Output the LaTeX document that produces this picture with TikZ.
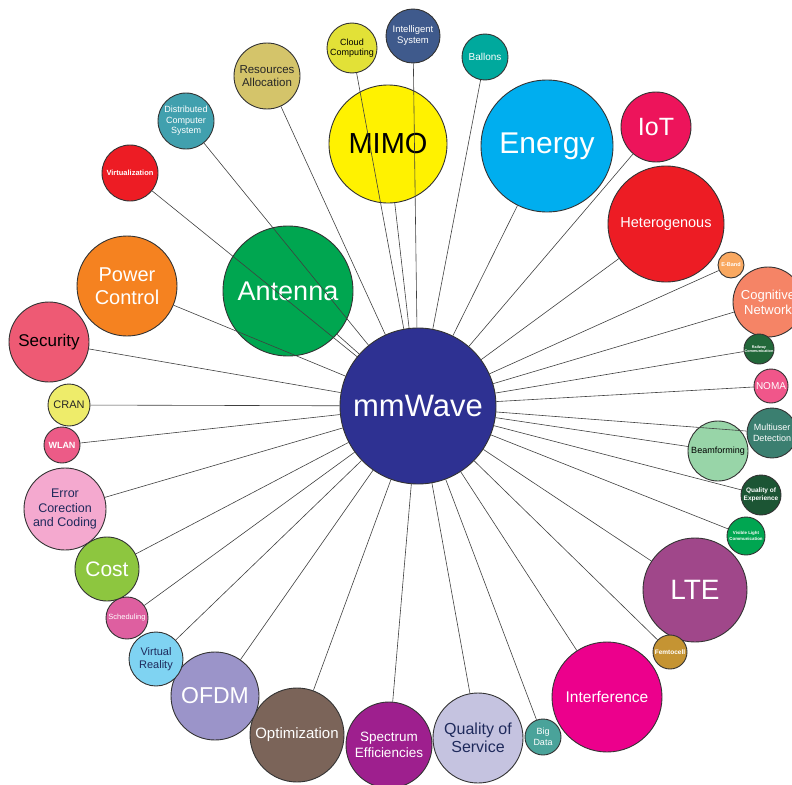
\documentclass[tikz,border=0pt]{standalone}
\usepackage{fontspec}
\setmainfont{Liberation Sans}
\newcommand{\fsz}[2]{\fontsize{#1}{#2}\selectfont}

\definecolor{cMm}{HTML}{2E3192}
\definecolor{cRes}{HTML}{D4C46A}
\definecolor{cCloud}{HTML}{E2E137}
\definecolor{cIntel}{HTML}{3F5A8C}
\definecolor{cBallon}{HTML}{00A99D}
\definecolor{cMimo}{HTML}{FFF200}
\definecolor{cEnergy}{HTML}{00AEEF}
\definecolor{cIot}{HTML}{ED145B}
\definecolor{cHet}{HTML}{ED1C24}
\definecolor{cEband}{HTML}{F9A860}
\definecolor{cCogn}{HTML}{F58466}
\definecolor{cRail}{HTML}{22683A}
\definecolor{cNoma}{HTML}{F0568A}
\definecolor{cMud}{HTML}{3B7F70}
\definecolor{cBeam}{HTML}{98D5A8}
\definecolor{cQoe}{HTML}{1C5534}
\definecolor{cVlc}{HTML}{00A651}
\definecolor{cLte}{HTML}{A0478A}
\definecolor{cFemto}{HTML}{C59433}
\definecolor{cInterf}{HTML}{EC008C}
\definecolor{cBig}{HTML}{4AA39A}
\definecolor{cQos}{HTML}{C5C3E0}
\definecolor{cSpec}{HTML}{9E1F8E}
\definecolor{cOptim}{HTML}{7B6459}
\definecolor{cOfdm}{HTML}{9B94C9}
\definecolor{cVr}{HTML}{7FD3F2}
\definecolor{cSched}{HTML}{DE5FA0}
\definecolor{cCost}{HTML}{8DC63F}
\definecolor{cEcc}{HTML}{F4A9CF}
\definecolor{cWlan}{HTML}{EC5B87}
\definecolor{cCran}{HTML}{EEEC6A}
\definecolor{cSec}{HTML}{EE5A74}
\definecolor{cPower}{HTML}{F58220}
\definecolor{cAnt}{HTML}{00A650}
\definecolor{cVirt}{HTML}{ED1C24}
\definecolor{cDcs}{HTML}{41A0AE}
\definecolor{cInk}{HTML}{1F2A5C}

\tikzset{
  bub/.style n args={3}{circle, draw=black!80, line width=0.9pt, fill=#1,
    minimum size=#2*2pt, inner sep=0pt, align=center, text=#3},
  link/.style={draw=black!75, line width=0.6pt}
}

\begin{document}
\begin{tikzpicture}[x=1pt,y=-1pt]
\useasboundingbox (0,0) rectangle (792,784);

% centre
\node[bub={cMm}{78}{white}, font=\fsz{31}{36}] (mm) at (418,406) {mmWave};

% top
\node[bub={cRes}{33}{black!85}, font=\fsz{11.5}{13}] (res) at (267,76) {Resources\\Allocation};
\node[bub={cCloud}{25}{black}, font=\fsz{9}{10.5}] (cloud) at (352,48) {Cloud\\Computing};
\node[bub={cIntel}{27}{white}, font=\fsz{9.5}{11}] (intel) at (413,36) {Intelligent\\System};
\node[bub={cBallon}{23}{white}, font=\fsz{10}{12}] (ballon) at (485,57) {Ballons};
\node[bub={cMimo}{59}{black}, font=\fsz{29}{34}] (mimo) at (388,144) {MIMO};
\node[bub={cEnergy}{66}{white}, font=\fsz{30}{35}] (energy) at (547,146) {Energy};
\node[bub={cIot}{35}{white}, font=\fsz{25}{30}] (iot) at (656,127) {IoT};

% right
\node[bub={cHet}{58}{white}, font=\fsz{14.5}{17}] (het) at (666,224) {Heterogenous};
\node[bub={cEband}{13}{white}, font=\fsz{5.5}{6.5}\bfseries] (eband) at (731,265) {E-Band};
\node[bub={cCogn}{35}{white}, font=\fsz{13}{15}] (cogn) at (768,302) {Cognitive\\Network};
\node[bub={cRail}{15}{white}, font=\fsz{3.8}{4.6}\bfseries] (rail) at (759,349) {Railway\\Communication};
\node[bub={cNoma}{17}{white}, font=\fsz{10}{12}] (noma) at (771,386) {NOMA};
\node[bub={cMud}{25}{white}, font=\fsz{9}{11}] (mud) at (772,433) {Multiuser\\Detection};
\node[bub={cBeam}{30}{black}, font=\fsz{9}{11}] (beam) at (718,451) {Beamforming};
\node[bub={cQoe}{20}{white}, font=\fsz{6.5}{7.8}\bfseries] (qoe) at (761,495) {Quality of\\Experience};
\node[bub={cVlc}{19}{white}, font=\fsz{4.4}{5.4}\bfseries] (vlc) at (746,536) {Visible Light\\Communication};
\node[bub={cLte}{52}{white}, font=\fsz{28}{33}] (lte) at (695,590) {LTE};
\node[bub={cFemto}{17}{white}, font=\fsz{6.5}{7.5}\bfseries] (femto) at (670,652) {Femtocell};

% bottom
\node[bub={cInterf}{55}{white}, font=\fsz{15.5}{18}] (interf) at (607,697) {Interference};
\node[bub={cBig}{18}{white}, font=\fsz{9}{10.5}] (bigdata) at (543,737) {Big\\Data};
\node[bub={cQos}{45}{cInk}, font=\fsz{16}{17.5}] (qos) at (478,738) {Quality of\\Service};
\node[bub={cSpec}{43}{white}, font=\fsz{13.5}{16}] (spec) at (389,745) {Spectrum\\Efficiencies};
\node[bub={cOptim}{47}{white}, font=\fsz{15}{18}] (optim) at (297,735) {Optimization};
\node[bub={cOfdm}{44}{white}, font=\fsz{23}{27}] (ofdm) at (215,696) {OFDM};
\node[bub={cVr}{27}{cInk}, font=\fsz{11}{13}] (vr) at (156,659) {Virtual\\Reality};
\node[bub={cSched}{21}{white}, font=\fsz{7.5}{9}] (sched) at (127,618) {Scheduling};

% left
\node[bub={cCost}{32}{white}, font=\fsz{21}{25}] (cost) at (107,569) {Cost};
\node[bub={cEcc}{41}{cInk}, font=\fsz{12.5}{14.5}] (ecc) at (65,509) {Error\\Corection\\and Coding};
\node[bub={cWlan}{18}{white}, font=\fsz{9}{11}\bfseries] (wlan) at (62,445) {WLAN};
\node[bub={cCran}{21}{black!85}, font=\fsz{11}{13}] (cran) at (69,405) {CRAN};
\node[bub={cSec}{40}{black}, font=\fsz{17}{20}] (sec) at (49,342) {Security};
\node[bub={cPower}{50}{white}, font=\fsz{20}{23}] (power) at (127,286) {Power\\Control};
\node[bub={cAnt}{65}{white}, font=\fsz{27}{32}] (ant) at (288,291) {Antenna};
\node[bub={cVirt}{28}{white}, font=\fsz{7.5}{9}\bfseries] (virt) at (130,173) {Virtualization};
\node[bub={cDcs}{28}{white}, font=\fsz{9}{10.5}] (dcs) at (186,121) {Distributed\\Computer\\System};

% spokes
\foreach \n in {res,cloud,intel,ballon,mimo,energy,iot,het,eband,cogn,rail,noma,mud,beam,qoe,vlc,lte,femto,interf,bigdata,qos,spec,optim,ofdm,vr,sched,cost,ecc,wlan,cran,sec,power,ant,virt,dcs}
  \draw[link] (mm) -- (\n);
\end{tikzpicture}
\end{document}
